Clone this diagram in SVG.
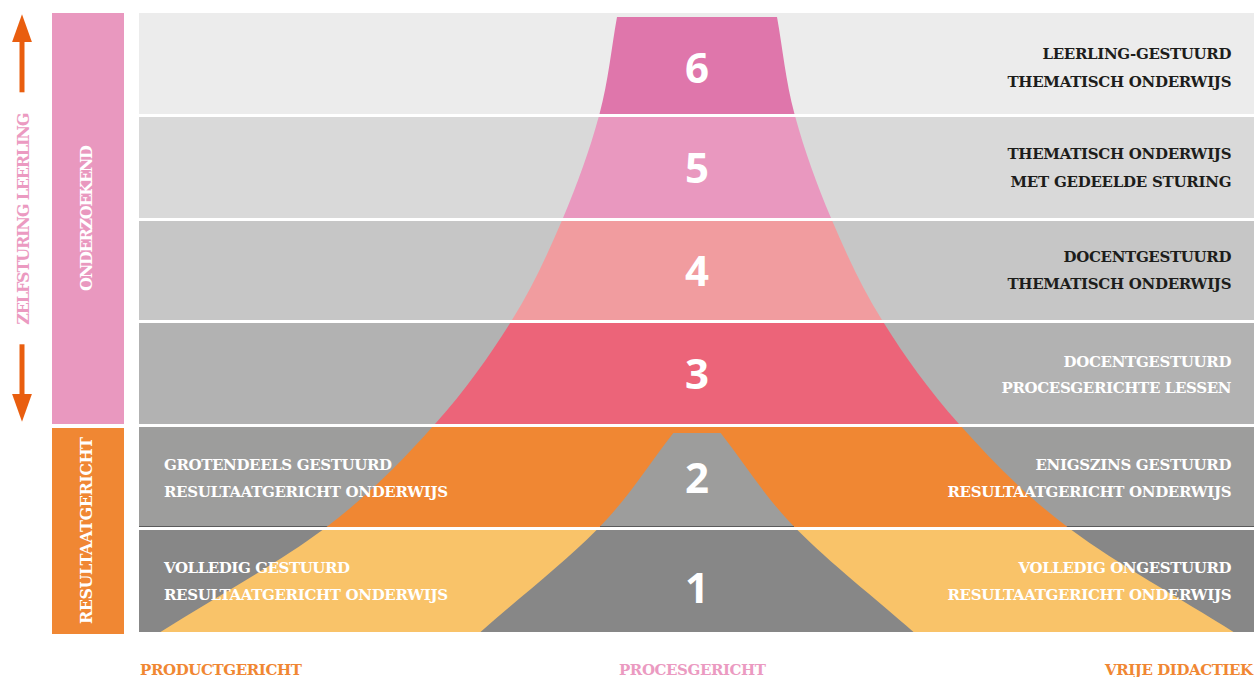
<svg xmlns="http://www.w3.org/2000/svg" width="1256" height="677" viewBox="0 0 1256 677">
<style>
.lbl{font-family:"DejaVu Serif","Liberation Serif",serif;font-weight:700;font-size:15px;}
.dark{fill:#1d1d1b}
.light{fill:#ffffff}
.num{font-family:"Open Sans","Noto Sans",sans-serif;font-weight:700;font-size:42px;fill:#ffffff;text-anchor:middle}
.side{font-family:"DejaVu Serif","Liberation Serif",serif;font-weight:700;font-size:16px;text-anchor:middle}
.axis{font-family:"DejaVu Serif","Liberation Serif",serif;font-weight:700;font-size:15px}
</style>
<defs>
<path id="funnel" d="M617,17 L777,17 C782.8,49.3 785.5,80.5 794.5,114 C803.5,147.5 816.4,183.7 831,218 C845.6,252.3 860.7,285.7 882,320 C903.3,354.3 928.1,389.5 959,424 C989.9,458.5 1021.75,492.3 1067.5,527 C1113.25,561.7 1178.2,597 1233.5,632 L160.5,632 C215.8,597 280.75,561.7 326.5,527 C372.25,492.3 404.1,458.5 435,424 C465.9,389.5 490.7,354.3 512,320 C533.3,285.7 548.4,252.3 563,218 C577.6,183.7 590.5,147.5 599.5,114 C608.5,80.5 611.2,49.3 617,17 Z"/>
<path id="inner" d="M673.3,433 L720.7,433 C745.3,464.3 762.4,493.8 794.5,527 C826.6,560.2 873.8,597 913.5,632 L480.5,632 C520.2,597 567.4,560.2 599.5,527 C631.6,493.8 648.7,464.3 673.3,433 Z"/>
<clipPath id="c6"><rect x="139" y="13" width="1115" height="101"/></clipPath>
<clipPath id="c5"><rect x="139" y="117" width="1115" height="101"/></clipPath>
<clipPath id="c4"><rect x="139" y="221" width="1115" height="99"/></clipPath>
<clipPath id="c3"><rect x="139" y="323" width="1115" height="101"/></clipPath>
<clipPath id="c2"><rect x="139" y="427" width="1115" height="100"/></clipPath>
<clipPath id="c1"><rect x="139" y="530" width="1115" height="102"/></clipPath>
<marker id="head" viewBox="0 0 28 20" refX="1" refY="10" markerWidth="28" markerHeight="20" markerUnits="userSpaceOnUse" orient="auto">
<path d="M0,0 L28,10 L0,20 Z" fill="#e95e0f"/>
</marker>
</defs>

<g id="row-6">
<rect x="139" y="13" width="1115" height="101" fill="#ececec"/>
<use href="#funnel" fill="#df76ab" clip-path="url(#c6)"/>
<text class="num" x="697" y="83">6</text>
<text class="lbl dark" x="1042.5" y="59.3" textLength="189" lengthAdjust="spacing">LEERLING-GESTUURD</text>
<text class="lbl dark" x="1007.5" y="86.7" textLength="224" lengthAdjust="spacing">THEMATISCH ONDERWIJS</text>
</g>

<g id="row-5">
<rect x="139" y="117" width="1115" height="101" fill="#d9d9d9"/>
<use href="#funnel" fill="#e998bf" clip-path="url(#c5)"/>
<text class="num" x="697" y="182.5">5</text>
<text class="lbl dark" x="1007.5" y="159.3" textLength="224" lengthAdjust="spacing">THEMATISCH ONDERWIJS</text>
<text class="lbl dark" x="1010.5" y="186.7" textLength="221" lengthAdjust="spacing">MET GEDEELDE STURING</text>
</g>

<g id="row-4">
<rect x="139" y="221" width="1115" height="99" fill="#c6c6c6"/>
<use href="#funnel" fill="#f19c9f" clip-path="url(#c4)"/>
<text class="num" x="697" y="285.5">4</text>
<text class="lbl dark" x="1063.5" y="262.3" textLength="168" lengthAdjust="spacing">DOCENTGESTUURD</text>
<text class="lbl dark" x="1007.5" y="289.3" textLength="224" lengthAdjust="spacing">THEMATISCH ONDERWIJS</text>
</g>

<g id="row-3">
<rect x="139" y="323" width="1115" height="101" fill="#b2b2b2"/>
<use href="#funnel" fill="#ec6479" clip-path="url(#c3)"/>
<text class="num" x="697" y="389">3</text>
<text class="lbl light" x="1063.5" y="366.7" textLength="168" lengthAdjust="spacing">DOCENTGESTUURD</text>
<text class="lbl light" x="1001.5" y="392.7" textLength="230" lengthAdjust="spacing">PROCESGERICHTE LESSEN</text>
</g>

<g id="row-2">
<rect x="139" y="427" width="1115" height="100" fill="#9d9d9c"/>
<line x1="139" y1="526.5" x2="1254" y2="526.5" stroke="#5a5a5a" stroke-width="1"/>
<use href="#funnel" fill="#f08733" clip-path="url(#c2)"/>
<use href="#inner" fill="#9d9d9c" clip-path="url(#c2)"/>
<line x1="600" y1="526.5" x2="794" y2="526.5" stroke="#5a5a5a" stroke-width="1"/>
<text class="num" x="697" y="493">2</text>
<text class="lbl light" x="164" y="469.5" textLength="228" lengthAdjust="spacing">GROTENDEELS GESTUURD</text>
<text class="lbl light" x="164" y="496.7" textLength="284" lengthAdjust="spacing">RESULTAATGERICHT ONDERWIJS</text>
<text class="lbl light" x="1035.5" y="470" textLength="196" lengthAdjust="spacing">ENIGSZINS GESTUURD</text>
<text class="lbl light" x="947.5" y="496.7" textLength="284" lengthAdjust="spacing">RESULTAATGERICHT ONDERWIJS</text>
</g>

<g id="row-1">
<rect x="139" y="530" width="1115" height="102" fill="#878787"/>
<use href="#funnel" fill="#f9c369" clip-path="url(#c1)"/>
<use href="#inner" fill="#878787" clip-path="url(#c1)"/>
<text class="num" x="697" y="603">1</text>
<text class="lbl light" x="164" y="573" textLength="186" lengthAdjust="spacing">VOLLEDIG GESTUURD</text>
<text class="lbl light" x="164" y="599.7" textLength="284" lengthAdjust="spacing">RESULTAATGERICHT ONDERWIJS</text>
<text class="lbl light" x="1018.5" y="573.3" textLength="213" lengthAdjust="spacing">VOLLEDIG ONGESTUURD</text>
<text class="lbl light" x="947.5" y="600" textLength="284" lengthAdjust="spacing">RESULTAATGERICHT ONDERWIJS</text>
</g>

<g id="panel-onderzoekend">
<rect x="52" y="13" width="72" height="411" fill="#e998bf"/>
<text class="side light" transform="translate(86,218) rotate(-90)" x="0" y="6" textLength="146" lengthAdjust="spacing">ONDERZOEKEND</text>
</g>

<g id="panel-resultaatgericht">
<rect x="52" y="428" width="72" height="206" fill="#f08733"/>
<text class="side light" transform="translate(86,530.5) rotate(-90)" x="0" y="6" textLength="187" lengthAdjust="spacing">RESULTAATGERICHT</text>
</g>

<g id="axis-zelfsturing">
<text class="side" fill="#eb9ac1" font-size="15" transform="translate(22.5,218.7) rotate(-90)" x="0" y="6" textLength="212" lengthAdjust="spacing">ZELFSTURING LEERLING</text>
</g>

<g id="connectors">
<line x1="22" y1="92.3" x2="22" y2="41.3" stroke="#e95e0f" stroke-width="5" marker-end="url(#head)"/>
<line x1="22" y1="344.3" x2="22" y2="394.7" stroke="#e95e0f" stroke-width="5" marker-end="url(#head)"/>
</g>

<g id="axis-labels">
<text class="axis" fill="#f08733" x="140" y="675" textLength="162" lengthAdjust="spacing">PRODUCTGERICHT</text>
<text class="axis" fill="#eb9ac1" x="619" y="675" textLength="147" lengthAdjust="spacing">PROCESGERICHT</text>
<text class="axis" fill="#f08733" x="1105" y="675" textLength="148" lengthAdjust="spacing">VRIJE DIDACTIEK</text>
</g>
</svg>
